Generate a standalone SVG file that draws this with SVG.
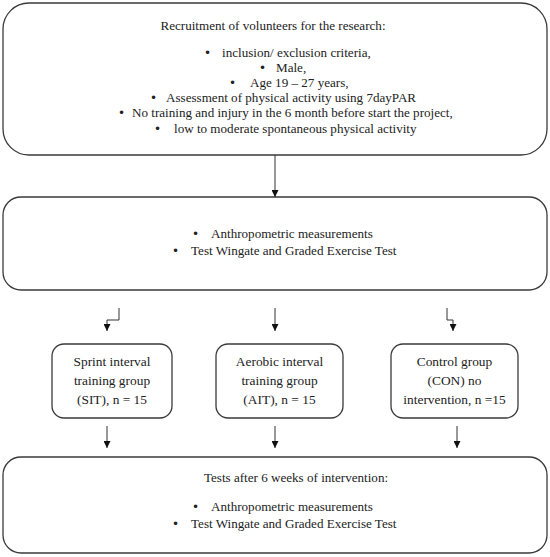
<svg xmlns="http://www.w3.org/2000/svg" width="550" height="557" viewBox="0 0 550 557">
<style>
.box{fill:#fff;stroke:#3a3a3a;stroke-width:1.3}
.t{font-family:"Liberation Serif","Times New Roman",serif;font-size:13.1px;fill:#222}
.b{font-family:"DejaVu Sans",sans-serif;font-size:12px;fill:#222}
.g{font-size:13.4px}
.c{text-anchor:middle}
.ln{fill:none;stroke:#333;stroke-width:1}
</style>
<defs>
<marker id="ah" viewBox="0 0 10 10" refX="10" refY="5" markerWidth="7" markerHeight="7" orient="auto" markerUnits="userSpaceOnUse">
<path d="M0,0 L10,5 L0,10 z" fill="#111"/>
</marker>
</defs>
<rect width="550" height="557" fill="#fff"/>
<g id="recruitment">
<rect class="box" x="3" y="3" width="544" height="152" rx="26" ry="26"/>
<text class="t c" x="273" y="30">Recruitment of volunteers for the research:</text>
<text class="b" x="204" y="57">•</text><text class="t" x="222" y="57">inclusion/ exclusion criteria,</text>
<text class="b" x="259" y="72">•</text><text class="t" x="276" y="72">Male,</text>
<text class="b" x="229" y="87">•</text><text class="t" x="250" y="87">Age 19 – 27 years,</text>
<text class="b" x="150" y="102">•</text><text class="t" x="166" y="102">Assessment of physical activity using 7dayPAR</text>
<text class="b" x="118" y="117">•</text><text class="t" x="132" y="117">No training and injury in the 6 month before start the project,</text>
<text class="b" x="154" y="133">•</text><text class="t" x="174" y="133">low to moderate spontaneous physical activity</text>
</g>
<g id="baseline">
<rect class="box" x="3" y="197" width="544" height="93" rx="18" ry="18"/>
<text class="b" x="192" y="238">•</text><text class="t" x="211" y="238">Anthropometric measurements</text>
<text class="b" x="172" y="255">•</text><text class="t" x="191" y="255">Test Wingate and Graded Exercise Test</text>
</g>
<g id="sit">
<rect class="box" x="52" y="344" width="120" height="74" rx="12" ry="12"/>
<text class="t g c" x="112" y="366">Sprint interval</text>
<text class="t g c" x="112" y="385">training group</text>
<text class="t g c" x="112" y="404">(SIT), n = 15</text>
</g>
<g id="ait">
<rect class="box" x="216" y="344" width="127" height="74" rx="12" ry="12"/>
<text class="t g c" x="279.5" y="366">Aerobic interval</text>
<text class="t g c" x="279.5" y="385">training group</text>
<text class="t g c" x="279.5" y="404">(AIT), n = 15</text>
</g>
<g id="con">
<rect class="box" x="391" y="344" width="127" height="74" rx="12" ry="12"/>
<text class="t g c" x="454.5" y="366">Control group</text>
<text class="t g c" x="454.5" y="385">(CON) no</text>
<text class="t g c" x="454.5" y="404">intervention, n =15</text>
</g>
<g id="post">
<rect class="box" x="3" y="457" width="544" height="96" rx="18" ry="18"/>
<text class="t c" x="296" y="482">Tests after 6 weeks of intervention:</text>
<text class="b" x="192" y="511">•</text><text class="t" x="211" y="511">Anthropometric measurements</text>
<text class="b" x="172" y="528">•</text><text class="t" x="191" y="528">Test Wingate and Graded Exercise Test</text>
</g>
<g id="connectors">
<path class="ln" d="M275,155 V197" marker-end="url(#ah)"/>
<path class="ln" d="M119,308 V320 H107 V331" marker-end="url(#ah)"/>
<path class="ln" d="M275,308 V331" marker-end="url(#ah)"/>
<path class="ln" d="M447,308 V320 H453 V331" marker-end="url(#ah)"/>
<path class="ln" d="M107,426 V448" marker-end="url(#ah)"/>
<path class="ln" d="M275,426 V448" marker-end="url(#ah)"/>
<path class="ln" d="M457,426 V448" marker-end="url(#ah)"/>
</g>
</svg>
